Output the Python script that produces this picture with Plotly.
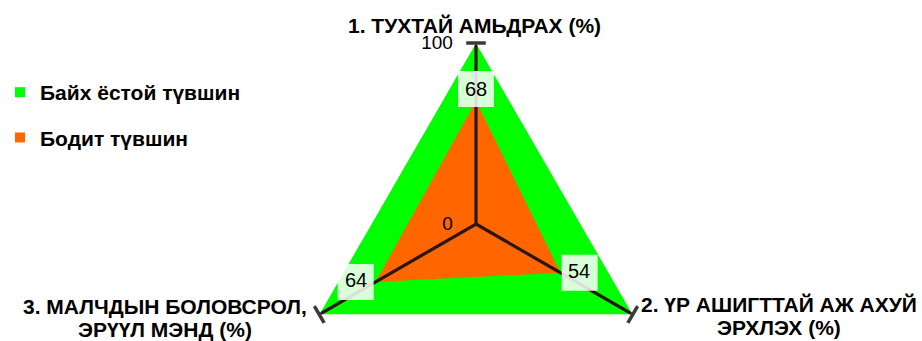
import plotly.graph_objects as go

# ---------------- data ----------------
categories = [
    "1. ТУХТАЙ АМЬДРАХ (%)",
    "2. ҮР АШИГТТАЙ АЖ АХУЙ<br>ЭРХЛЭХ (%)",
    "3. МАЛЧДЫН БОЛОВСРОЛ,<br>ЭРҮҮЛ МЭНД (%)",
]
series_names = ["Байх ёстой түвшин", "Бодит түвшин"]
target_values = [100, 100, 100]
actual_values = [68, 54, 64]
radial_ticks = [0, 100]
r_max = 100

# ---------------- style ----------------
GREEN = "#00ff00"
ORANGE = "#ff6600"
SPOKE = "#2a160c"
FONT = "Liberation Sans"
BOLD_SIZE = 21

W, H = 922, 405          # page taller than the 341px window; the bottom is cropped
TOP = 43                 # top of the polar circle in px
DIAM = 362               # polar circle diameter in px
CX = 476                 # polar centre x in px


def paper(x, y):
    return x / W, 1 - y / H


def closed(v):
    return list(v) + [v[0]]


fig = go.Figure()

# target polygon (green)
fig.add_trace(go.Scatterpolar(
    r=closed(target_values), theta=closed(categories), mode="lines",
    fill="toself", fillcolor=GREEN, line=dict(width=0, color=GREEN),
    showlegend=False, hoverinfo="skip"))

# actual polygon (orange)
fig.add_trace(go.Scatterpolar(
    r=closed(actual_values), theta=closed(categories), mode="lines",
    fill="toself", fillcolor=ORANGE, line=dict(width=0, color=ORANGE),
    showlegend=False, hoverinfo="skip"))

# spokes: vertex -> centre -> vertex -> centre -> vertex
spoke_r, spoke_t = [], []
for i, c in enumerate(categories):
    if i:
        spoke_r.append(0)
        spoke_t.append(c)
    spoke_r.append(r_max)
    spoke_t.append(c)
fig.add_trace(go.Scatterpolar(
    r=spoke_r, theta=spoke_t, mode="lines",
    line=dict(color=SPOKE, width=3.2),
    showlegend=False, hoverinfo="skip"))

# cross ticks at the end of every spoke
fig.add_trace(go.Scatterpolar(
    r=[r_max] * len(categories), theta=categories, mode="markers",
    marker=dict(symbol="line-ew", size=14, angle=[0, -60, 60],
                line=dict(color="#3a3a3a", width=3.5)),
    showlegend=False, hoverinfo="skip", cliponaxis=False))

# data label boxes (semi-transparent white), shifted off the point
fig.add_trace(go.Scatterpolar(
    r=actual_values, theta=categories, mode="markers",
    marker=dict(symbol="square", size=36, color="rgba(255,255,255,0.85)",
                angle=[180, 270, 90], standoff=[12, 19, 20],
                line=dict(width=0)),
    showlegend=False, hoverinfo="skip", cliponaxis=False))

# data label text
fig.add_trace(go.Scatterpolar(
    r=actual_values, theta=categories, mode="markers+text",
    text=[str(v) for v in actual_values],
    textposition=["top center", "middle right", "middle left"],
    textfont=dict(family=FONT, size=20, color="black"),
    marker=dict(size=[0, 10, 12], opacity=0),
    showlegend=False, hoverinfo="skip", cliponaxis=False))

# legend entries
for name, col in zip(series_names, [GREEN, ORANGE]):
    fig.add_trace(go.Scatterpolar(
        r=[None], theta=[None], mode="markers", name=name, legendgroup=name,
        marker=dict(symbol="square", size=10, color=col)))

# category labels (one annotation per line, lines centred)
label_px = [(474, 25), (779, 304), (165, 306)]
LINE_H = 23
annotations = []
for text, (x, y) in zip(categories, label_px):
    for k, line in enumerate(text.split("<br>")):
        ax, ay = paper(x, y + k * LINE_H)
        annotations.append(dict(
            text=line, x=ax, y=ay, xref="paper", yref="paper",
            xanchor="center", yanchor="middle", align="center", showarrow=False,
            font=dict(family=FONT, size=BOLD_SIZE, color="black", weight="bold")))

fig.update_layout(
    width=W, height=H,
    margin=dict(l=0, r=0, t=0, b=0),
    paper_bgcolor="white", plot_bgcolor="white",
    font=dict(family=FONT, color="black"),
    polar=dict(
        domain=dict(x=[(2 * CX - W) / W, 1], y=[1 - (TOP + DIAM) / H, 1 - TOP / H]),
        gridshape="linear", bgcolor="rgba(0,0,0,0)",
        angularaxis=dict(rotation=90, direction="clockwise", showline=False,
                         showgrid=False, showticklabels=False, ticks="",
                         categoryorder="array", categoryarray=categories),
        radialaxis=dict(range=[0, r_max], angle=90, side="counterclockwise",
                        tickvals=radial_ticks, showline=False, showgrid=False,
                        ticks="outside", ticklen=16, tickcolor="rgba(0,0,0,0)",
                        tickangle=90,
                        tickfont=dict(family=FONT, size=19, color="black")),
    ),
    legend=dict(x=0, y=paper(0, 72)[1], xanchor="left", yanchor="top",
                traceorder="grouped", tracegroupgap=15,
                font=dict(family=FONT, size=BOLD_SIZE, color="black", weight="bold"),
                bgcolor="rgba(0,0,0,0)", itemclick=False),
    annotations=annotations,
)

fig.write_html(
    "out.html",
    config={"displayModeBar": False},
    post_script="document.body.style.margin='0';"
                "document.documentElement.style.overflow='hidden';",
)
